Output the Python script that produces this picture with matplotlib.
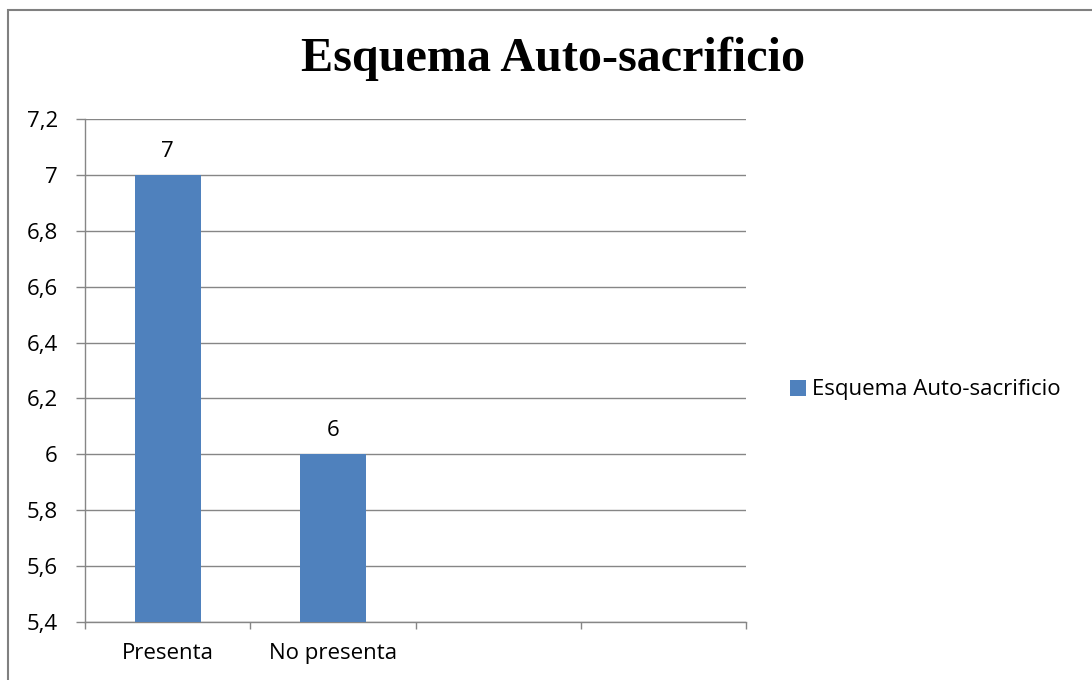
import numpy as np
import matplotlib.pyplot as plt
from matplotlib.patches import Rectangle

# data
categories = ['Presenta', 'No presenta']
values = [7, 6]
n_slots = 4  # the axis has two empty category slots
series_name = 'Esquema Auto-sacrificio'
title = 'Esquema Auto-sacrificio'
yticks = [5.4, 5.6, 5.8, 6.0, 6.2, 6.4, 6.6, 6.8, 7.0, 7.2]

bar_color = '#4F81BD'
grid_color = '#868686'
sans = ['Open Sans', 'DejaVu Sans']
fs = 16

W, H = 1092, 680
fig = plt.figure(figsize=(W / 100, H / 100), dpi=100)
ax = fig.add_axes([85 / W, 1 - 622 / H, (746 - 85) / W, (622 - 119) / H])

x = np.arange(len(categories))
ax.bar(x, values, width=0.4, color=bar_color, label=series_name, zorder=3)
for xi, v in zip(x, values):
    ax.annotate('%g' % v, (xi, v), xytext=(0, 13), textcoords='offset points',
                ha='center', va='baseline', fontsize=fs, family=sans, zorder=4)

ax.set_xlim(-0.5, n_slots - 0.5)
ax.set_ylim(5.4, 7.2)
ax.set_yticks(yticks)
ax.set_yticklabels([('%g' % t).replace('.', ',') for t in yticks],
                   fontsize=fs, family=sans)
ax.yaxis.grid(True, color=grid_color, linewidth=1)
ax.set_axisbelow(True)

# category labels centred, tick marks on the slot boundaries
ax.set_xticks(x)
ax.set_xticklabels(categories, fontsize=fs, family=sans)
ax.set_xticks(np.arange(n_slots + 1) - 0.5, minor=True)
ax.tick_params(axis='x', which='major', length=0, pad=15)
ax.tick_params(axis='x', which='minor', length=5, color=grid_color, width=1)
ax.tick_params(axis='y', length=6.5, color=grid_color, width=1, pad=13)

for s in ['top', 'right']:
    ax.spines[s].set_visible(False)
for s in ['left', 'bottom']:
    ax.spines[s].set_color(grid_color)
    ax.spines[s].set_linewidth(1)

fig.text(553 / W, 1 - 59 / H, title, ha='center', va='center',
         fontsize=34.7, fontweight='bold', family='Liberation Serif')

fig.legend(loc='center left', bbox_to_anchor=(790 / W, 1 - 390 / H),
           frameon=False, prop={'family': sans, 'size': fs}, borderpad=0,
           borderaxespad=0, handlelength=0.7, handleheight=0.7,
           handletextpad=0.3)

# chart frame, runs off the right and bottom edges
fig.patches.append(Rectangle((8 / W, -0.05), 1.1, 1 - 10 / H + 0.05,
                             transform=fig.transFigure, fill=False,
                             edgecolor='#808080', linewidth=1.5))

fig.savefig('out.png', dpi=100)
